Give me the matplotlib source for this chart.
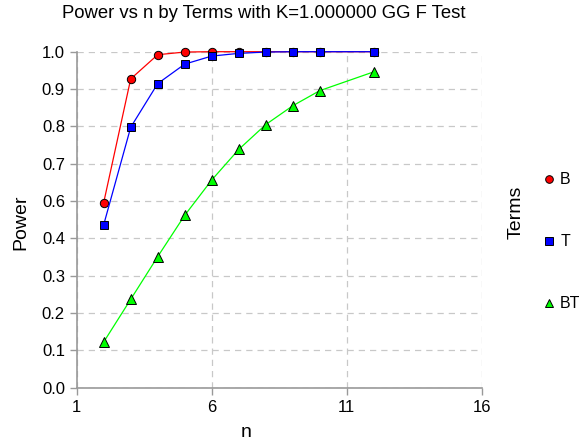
import numpy as np
import matplotlib
matplotlib.use("Agg")
import matplotlib.pyplot as plt
from matplotlib.lines import Line2D
from matplotlib.ticker import FixedLocator, FixedFormatter

plt.rcParams["font.family"] = ["Liberation Sans", "DejaVu Sans"]

n = [2, 3, 4, 5, 6, 7, 8, 9, 10, 12]
power_b = [0.551, 0.919, 0.991, 0.999, 1.000, 1.000, 1.000, 1.000, 1.000, 1.000]
power_t = [0.485, 0.775, 0.905, 0.963, 0.987, 0.995, 0.999, 1.000, 1.000, 1.000]
power_bt = [0.136, 0.263, 0.390, 0.513, 0.618, 0.709, 0.783, 0.839, 0.884, 0.940]

x_ticks = [1, 6, 11, 16]
y_ticks = [k / 9 for k in range(10)]
y_labels = [f"{v:.1f}" for v in y_ticks]

series = [
    ("B", power_b, "#ff0000", "o", 6.0),
    ("T", power_t, "#0000ff", "s", 5.8),
    ("BT", power_bt, "#00ff00", "^", 6.5),
]

fig = plt.figure(figsize=(5.8, 4.48), dpi=100)
ax = fig.add_axes([76.7 / 580, 1 - 387.7 / 448, 405 / 580, 336 / 448])

for label, vals, color, marker, ms in series:
    ax.plot(n, vals, color=color, lw=0.9, marker=marker, ms=ms,
            mfc=color, mec="black", mew=0.7, clip_on=False, zorder=3)

ax.set_xlim(1, 16)
ax.set_ylim(0, 1)
ax.xaxis.set_major_locator(FixedLocator(x_ticks))
ax.yaxis.set_major_locator(FixedLocator(y_ticks))
ax.yaxis.set_major_formatter(FixedFormatter(y_labels))
ax.grid(True, color="#c8c8c8", ls=(0, (5, 4)), lw=0.9)
ax.set_axisbelow(True)
for s in ("top", "right"):
    ax.spines[s].set_visible(False)
for s in ("left", "bottom"):
    ax.spines[s].set_color("#999999")
    ax.spines[s].set_linewidth(1.2)
ax.tick_params(colors="#999999", labelcolor="black", labelsize=12, length=5, width=1)

# axis labels and title placed in figure pixels, as in the reference
fig.text(246 / 580, 1 - 432 / 448, "n", fontsize=14, ha="center", va="center")
fig.text(21 / 580, 1 - 222 / 448, "Power", fontsize=14, rotation=90,
         ha="center", va="center")
fig.text(264 / 580, 1 - 14 / 448, "Power vs n by Terms with K=1.000000 GG F Test",
         fontsize=13.3, ha="center", va="center")

handles = [Line2D([], [], ls="none", marker=m, ms=ms - 0.5, mfc=c, mec="black", mew=0.7)
           for _, _, c, m, ms in series]
fig.legend(handles, [s[0] for s in series], loc="upper left",
           bbox_to_anchor=(525 / 580, 1 - 158 / 448), frameon=False,
           fontsize=11.5, labelspacing=2.94, handletextpad=0.1, handlelength=1.2)
fig.text(516 / 580, 1 - 212 / 448, "Terms", rotation=90, fontsize=14,
         ha="center", va="center")

fig.savefig("out.png", dpi=100)
